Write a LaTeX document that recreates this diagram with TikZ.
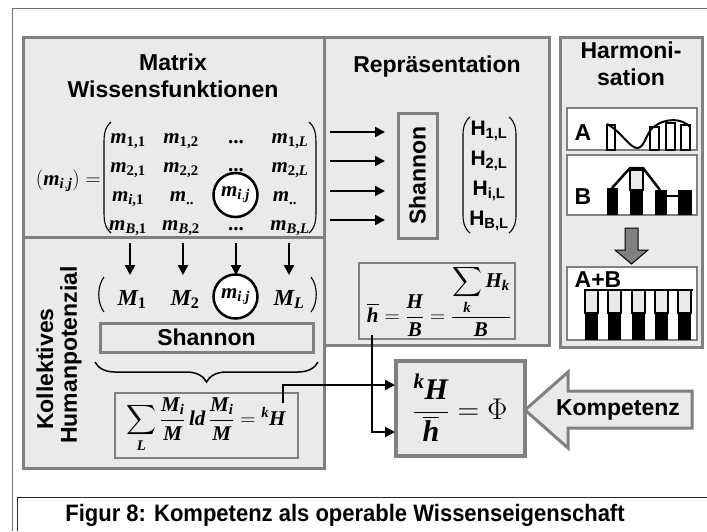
\RequirePackage{fix-cm}
\documentclass[tikz,border=0pt]{standalone}
\usepackage{amsmath}
\usepackage{fontspec}
\setsansfont{Liberation Sans}
\newfontfamily\tnr{Liberation Serif}
\usetikzlibrary{arrows.meta,decorations.pathreplacing,calc}
\definecolor{pfill}{HTML}{EAEAEA}
\definecolor{pline}{HTML}{808080}
\definecolor{framec}{HTML}{707070}
\newcommand\bi[1]{\text{\tnr\bfseries\itshape #1}}
\newcommand\bu[1]{\text{\tnr\bfseries #1}}
\newcommand\hbarsym{\overline{\bi{h}}}
\tikzset{
  panel/.style={draw=pline, line width=3pt, fill=pfill},
  ibox/.style={draw=pline, line width=3pt, fill=pfill, inner sep=0pt},
  fbox/.style={draw=pline, line width=2pt, fill=pfill, inner sep=0pt},
  hbox/.style={draw=pline, line width=2pt, fill=white},
  ttl/.style={font=\sffamily\bfseries\fontsize{23}{27}\selectfont, inner sep=0pt, align=center},
  captxt/.style={font=\sffamily\bfseries\fontsize{22}{26}\selectfont, inner sep=0pt},
  mth/.style={font=\fontsize{21}{25}\selectfont, inner sep=0pt},
  mthL/.style={font=\fontsize{23}{27}\selectfont, inner sep=0pt},
  hv/.style={font=\sffamily\bfseries\fontsize{21}{25}\selectfont, inner sep=0pt},
  circ/.style={circle, draw=black, line width=2.5pt, fill=white, minimum size=44pt, inner sep=0pt},
  arr/.style={line width=2pt, -{Triangle[length=10pt,width=10pt]}},
  paren/.style={line width=1.1pt},
  barw/.style={draw=black, line width=1.5pt, fill=white},
  barg/.style={draw=black, line width=1.5pt, fill=pfill},
  barb/.style={fill=black},
}
\begin{document}
\begin{tikzpicture}[x=1pt,y=-1pt]
\useasboundingbox (0,0) rectangle (707,531);
\fill[white] (0,0) rectangle (707,531);
% frames
\draw[framec, line width=1pt] (12.5,531) -- (12.5,8) -- (707,8);
\draw[black!85, line width=1pt] (17,531) -- (17,497) -- (707,497);
\node[captxt, yscale=1.08] (caption) at (345,515) {Figur 8: Kompetenz als operable Wissenseigenschaft};

% panels
\path[panel] (23,37) rectangle (324,237);
\path[panel] (23,237) rectangle (324,468);
\path[panel] (324,37) rectangle (549,345);
\path[panel] (560,37) rectangle (702,347);

% titles
\node[ttl] (tmat) at (173,76) {Matrix\\Wissensfunktionen};
\node[ttl] (trep) at (437,67) {Repräsentation};
\node[ttl] (tharm) at (631,64) {Harmoni-\\sation};

% matrix
\node[mth, anchor=east] (lhs) at (101,181) {$\left(\bi{m}_{\bi{i},\bi{j}}\right)=$};
\draw[paren] (111,122) .. controls (104,128) and (104,136) .. (104,145) -- (104,210) .. controls (104,219) and (104,227) .. (111,233);
\draw[paren] (309,122) .. controls (316,128) and (316,136) .. (316,145) -- (316,210) .. controls (316,219) and (316,227) .. (309,233);
\node[mth, anchor=base] (e11) at (128,143) {$\bi{m}_{\bu{1,1}}$};
\node[mth, anchor=base] (e12) at (181,143) {$\bi{m}_{\bu{1,2}}$};
\node[mth, anchor=base] (e13) at (236,143) {\tnr\bfseries ...};
\node[mth, anchor=base] (e14) at (290,143) {$\bi{m}_{\bu{1,}\bi{L}}$};
\node[mth, anchor=base] (e21) at (128,172) {$\bi{m}_{\bu{2,1}}$};
\node[mth, anchor=base] (e22) at (181,172) {$\bi{m}_{\bu{2,2}}$};
\node[mth, anchor=base] (e23) at (236,171) {\tnr\bfseries ...};
\node[mth, anchor=base] (e24) at (290,172) {$\bi{m}_{\bu{2,}\bi{L}}$};
\node[mth, anchor=base] (e31) at (128,201) {$\bi{m}_{\bi{i}\bu{,1}}$};
\node[mth, anchor=base] (e32) at (182,201) {$\bi{m}_{\bu{..}}$};
\node[circ, mth] (c1) at (235.5,195) {$\bi{m}_{\bi{i},\bi{j}}$};
\node[mth, anchor=base] (e34) at (285,201) {$\bi{m}_{\bu{..}}$};
\node[mth, anchor=base] (e41) at (128,230) {$\bi{m}_{\bi{B}\bu{,1}}$};
\node[mth, anchor=base] (e42) at (181,230) {$\bi{m}_{\bi{B}\bu{,2}}$};
\node[mth, anchor=base] (e43) at (236,230) {\tnr\bfseries ...};
\node[mth, anchor=base] (e44) at (290,230) {$\bi{m}_{\bi{B}\bu{,}\bi{L}}$};

% arrows to Shannon
\foreach \i/\y in {1/132,2/161,3/191,4/220}{
  \coordinate (ra\i) at (330,\y);
  \coordinate (rb\i) at (385,\y);
  \draw[arr] (ra\i) -- (rb\i);
}
\node[ibox, minimum width=39pt, minimum height=125pt] (shanv) at (417.5,175.5) {};
\node[ttl, rotate=90] (shanvt) at (shanv.center) {Shannon};

% H vector
\draw[paren] (470,117) .. controls (464,122) and (463,128) .. (463,136) -- (463,214) .. controls (463,222) and (464,228) .. (470,233);
\draw[paren] (509,117) .. controls (515,122) and (516,128) .. (516,136) -- (516,214) .. controls (516,222) and (515,228) .. (509,233);
\node[hv, anchor=base] (h1) at (489,135) {H\textsubscript{1,L}};
\node[hv, anchor=base] (h2) at (489,165) {H\textsubscript{2,L}};
\node[hv, anchor=base] (h3) at (489,195) {H\textsubscript{i,L}};
\node[hv, anchor=base] (h4) at (489,225) {H\textsubscript{B,L}};

% hbar box
\node[fbox, minimum width=156pt, minimum height=76pt] (hbx) at (437,301) {};
\node[mth] (hfml) at (439,301) {$\hbarsym = \dfrac{\bi{H}}{\bi{B}} = \dfrac{\displaystyle\sum_{\bi{k}} \bi{H}_{\bi{k}}}{\bi{B}}$};

% Kollektives
\node[ttl, rotate=90] (kol1) at (45,369) {Kollektives};
\node[ttl, rotate=90] (kol2) at (71,355) {Humanpotenzial};
\foreach \i/\x in {1/130,2/183,3/236,4/289}{
  \coordinate (da\i) at (\x,243);
  \coordinate (db\i) at (\x,275);
  \draw[arr] (da\i) -- (db\i);
}
\draw[paren] (104,277) .. controls (97,286) and (97,303) .. (104,312);
\draw[paren] (311,277) .. controls (318,286) and (318,303) .. (311,312);
\node[mthL, anchor=base] (M1) at (132,305) {$\bi{M}_{\bu{1}}$};
\node[mthL, anchor=base] (M2) at (185,305) {$\bi{M}_{\bu{2}}$};
\node[circ, mth] (c2) at (235.5,296.5) {$\bi{m}_{\bi{i},\bi{j}}$};
\node[mthL, anchor=base] (ML) at (289,305) {$\bi{M}_{\bi{L}}$};
\node[ibox, minimum width=213pt, minimum height=29pt] (shan2) at (206.5,337.5) {};
\node[ttl] (shan2t) at (shan2.center) {Shannon};
\draw[line width=1.5pt, decorate, decoration={brace, mirror, amplitude=20pt, aspect=0.5}] (95,362) -- (318,362);
\node[fbox, minimum width=183pt, minimum height=65pt] (fbx) at (206.5,425.5) {};
\node[mth] (kfml) at (206,425) {$\displaystyle\sum_{\bi{L}} \frac{\bi{M}_{\bi{i}}}{\bi{M}}\, \bi{ld}\, \frac{\bi{M}_{\bi{i}}}{\bi{M}} = {}^{\bi{k}}\bi{H}$};

% Harmonisation
\path[hbox] (567,108) rectangle (697,150);
\path[hbox] (567,155) rectangle (697,215);
\path[hbox] (567,267) rectangle (697,340);
\node[ttl] (lA) at (583,133) {A};
\node[ttl] (lB) at (583,197) {B};
\node[ttl] (lAB) at (598,280) {A+B};
% A
\path[barw] (607,125) rectangle (615,150);
\path[barw] (650,127) rectangle (659,150);
\path[barw] (666,123) rectangle (675,150);
\path[barw] (681,125) rectangle (690,150);
\draw[line width=2pt] (607,124) .. controls (622,132) and (630,149) .. (638,148) .. controls (645,147) and (647,130) .. (655,126) .. controls (666,118) and (682,118) .. (690,127);
% B
\path[barb] (607,188) rectangle (618,215);
\path[barg] (630,170) rectangle (643,190);
\path[barb] (630,190) rectangle (643,215);
\path[barb] (655,190) rectangle (667,215);
\path[barb] (678,190) rectangle (692,215);
\draw[line width=2.5pt] (612,188) -- (630,168) -- (643,168) -- (660,190);
\draw[line width=2.5pt] (667,196) -- (678,196);
% down arrow
\path[draw=black, line width=1pt, fill=pline] (625,228) -- (638,228) -- (638,250) -- (648,250) -- (631.5,264) -- (615,250) -- (625,250) -- cycle;
% A+B
\foreach \x in {585,608,632,655,678}{
  \path[barg] (\x,290) rectangle ++(13,23);
  \path[barb] (\x,313) rectangle ++(13,27);
}
\draw[line width=2.5pt] (588,290) -- (693,290);

% Kompetenz arrow and Phi box
\path[draw=pline, line width=3pt, fill=pfill, line join=miter] (525,410) -- (568,372) -- (568,391) -- (692,391) -- (692,428) -- (568,428) -- (568,448) -- cycle;
\node[ttl] (komp) at (618,410) {Kompetenz};
\node[draw=pline, line width=4pt, fill=pfill, minimum width=129pt, minimum height=95pt, inner sep=0pt] (phi) at (460.5,408.5) {};
\node[font=\fontsize{30}{36}\selectfont, inner sep=0pt] (phif) at (460,408) {$\dfrac{{}^{\bi{k}}\bi{H}}{\hbarsym} = \Phi$};

% links into Phi box
\coordinate (kh) at (283,403);
\coordinate (pin1) at (395,385);
\draw[arr] (kh) |- (pin1);
\coordinate (hb) at (372,335);
\coordinate (pin2) at (395,432);
\draw[arr] (hb) |- (pin2);
\end{tikzpicture}
\end{document}
